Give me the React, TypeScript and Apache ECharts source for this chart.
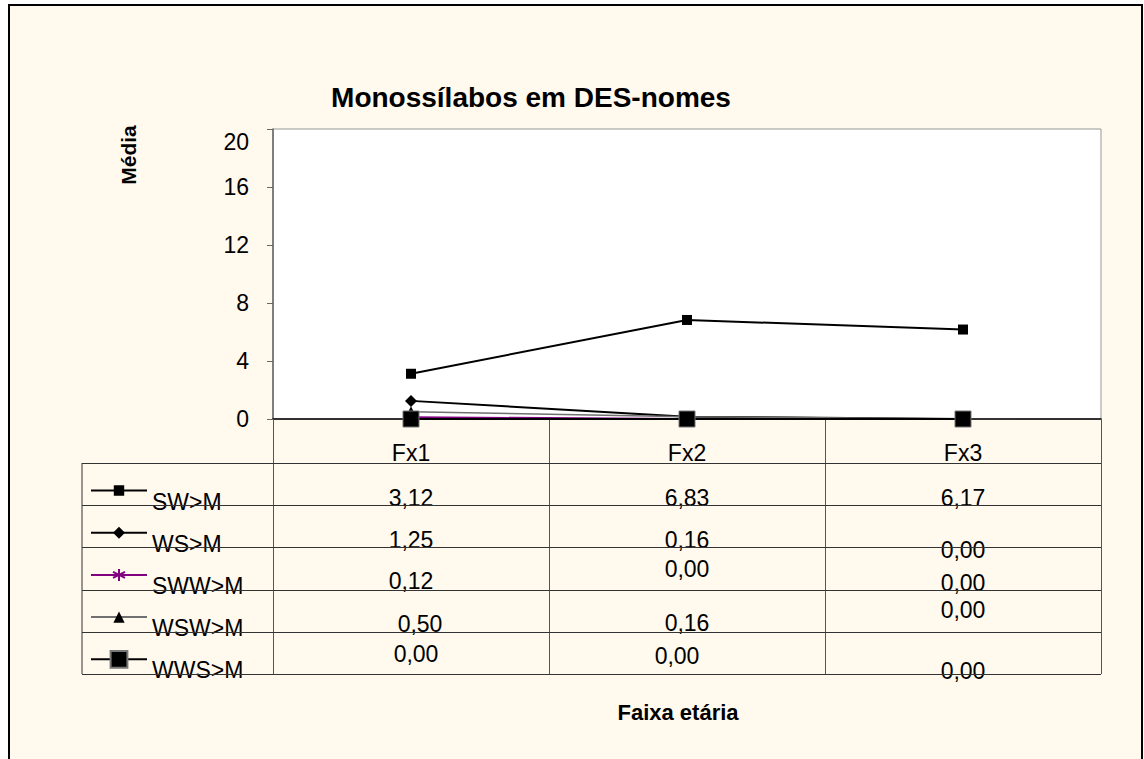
import React, { useEffect, useRef } from "react";
import * as echarts from "echarts";

// ---- data ----
const categories = ["Fx1", "Fx2", "Fx3"];
const seriesNames = ["SW>M", "WS>M", "SWW>M", "WSW>M", "WWS>M"];
const swM = [3.12, 6.83, 6.17];
const wsM = [1.25, 0.16, 0.0];
const swwM = [0.12, 0.0, 0.0];
const wswM = [0.5, 0.16, 0.0];
const wwsM = [0.0, 0.0, 0.0];
const yTicks = [0, 4, 8, 12, 16, 20];
const title = "Monossílabos em DES-nomes";
const yName = "Média";
const xName = "Faixa etária";

// ---- layout (not data) ----
const FONT = "'Liberation Sans', Arial, Helvetica, sans-serif";
const FS = 23;
const CREAM = "#FFF9EE";
const GRID = { left: 273, top: 129, width: 828, height: 290 };
const TABLE_LEFT = 82;
const TABLE_TOP = 463;
const ROW_H = 42.2;
// per-cell nudges of the value texts, [row][col] -> [dx, dy] relative to row center
const NUDGE: number[][][] = [
  [[0, 14], [0, 14], [0, 14]],
  [[0, 14], [0, 14], [0, 24]],
  [[0, 12], [0, 0], [0, 14]],
  [[9, 13], [0, 12], [0, -1]],
  [[5, 1], [-10, 3], [0, 18]],
];
const ICON_H = [13, 15, 15, 14, 21];

const asterisk =
  "path://M5 0 L5 10 M0.67 2.5 L9.33 7.5 M0.67 7.5 L9.33 2.5";

const fmt = (v: number) => v.toFixed(2).replace(".", ",");

export default function App() {
  const ref = useRef<HTMLDivElement>(null);
  useEffect(() => {
    if (!ref.current) return;
    const chart = echarts.init(ref.current, null, { renderer: "svg" });
    const values = [swM, wsM, swwM, wswM, wwsM];

    const series: any[] = [
      {
        name: seriesNames[0], type: "line", data: swM, symbol: "rect", symbolSize: 10,
        lineStyle: { color: "#000", width: 2 }, itemStyle: { color: "#000" }, z: 3,
      },
      {
        name: seriesNames[1], type: "line", data: wsM, symbol: "diamond", symbolSize: 12,
        lineStyle: { color: "#000", width: 2 }, itemStyle: { color: "#000" }, z: 3,
      },
      {
        name: seriesNames[2], type: "line", data: swwM, symbol: asterisk, symbolSize: 11,
        lineStyle: { color: "#800080", width: 2 },
        itemStyle: { color: "#800080", borderColor: "#800080", borderWidth: 1.5 }, z: 3,
      },
      {
        name: seriesNames[3], type: "line", data: wswM, symbol: "triangle", symbolSize: 11,
        lineStyle: { color: "#707070", width: 1.5 }, itemStyle: { color: "#000" }, z: 3,
      },
      {
        name: seriesNames[4], type: "line", data: wwsM, symbol: "rect", symbolSize: 16,
        lineStyle: { color: "#000", width: 2 },
        itemStyle: { color: "#000", borderColor: "#777", borderWidth: 1 }, z: 4,
      },
    ];

    const legends = seriesNames.map((n, i) => ({
      data: [n],
      left: 90,
      top: TABLE_TOP + ROW_H * i + 27 - 22,
      orient: "vertical",
      itemWidth: 56,
      itemHeight: ICON_H[i],
      padding: 0,
      selectedMode: false,
      formatter: (name: string) => "\n" + name,
      textStyle: { fontSize: FS, fontFamily: FONT, color: "#000", lineHeight: 22 },
    }));

    chart.setOption({
      animation: false,
      backgroundColor: "transparent",
      grid: {
        ...GRID, show: true, backgroundColor: "#fff", borderColor: "#999", borderWidth: 1,
        containLabel: false,
      },
      legend: legends,
      xAxis: {
        type: "category",
        data: categories,
        boundaryGap: true,
        axisLine: { lineStyle: { color: "#000", width: 1.5 } },
        axisTick: { show: true, interval: 0, length: 255, inside: false, lineStyle: { color: "#555", width: 1 } },
        axisLabel: { fontSize: FS, fontFamily: FONT, color: "#000", margin: 22, interval: 0 },
        splitLine: { show: false },
      },
      yAxis: {
        type: "value",
        min: yTicks[0],
        max: yTicks[yTicks.length - 1],
        interval: yTicks[1] - yTicks[0],
        axisLine: { show: true, lineStyle: { color: "#666", width: 1.5 } },
        axisTick: { show: true, length: 6, lineStyle: { color: "#666" } },
        axisLabel: {
          fontSize: FS, fontFamily: FONT, color: "#000", margin: 24, lineHeight: 26,
          formatter: (v: number) => (v === yTicks[yTicks.length - 1] ? "\n" + v : String(v)),
        },
        splitLine: { show: false },
      },
      series,
    });

    const xs = categories.map((c) => chart.convertToPixel({ xAxisIndex: 0 }, c) as number);
    const xRight = GRID.left + GRID.width;

    const els: any[] = [
      {
        type: "rect", z: -10, silent: true,
        shape: { x: 9, y: 5, width: 1133, height: 800 },
        style: { fill: CREAM, stroke: "#000", lineWidth: 2 },
      },
      {
        type: "text", x: 531, y: 97,
        style: { text: title, font: `bold 28px ${FONT}`, fill: "#000", align: "center", verticalAlign: "middle" },
      },
      {
        type: "text", x: 128, y: 155, rotation: Math.PI / 2,
        style: { text: yName, font: `bold 21px ${FONT}`, fill: "#000", align: "center", verticalAlign: "middle" },
      },
      {
        type: "text", x: 678, y: 712,
        style: { text: xName, font: `bold 22px ${FONT}`, fill: "#000", align: "center", verticalAlign: "middle" },
      },
      {
        type: "line",
        shape: { x1: TABLE_LEFT, y1: TABLE_TOP, x2: TABLE_LEFT, y2: TABLE_TOP + ROW_H * seriesNames.length },
        style: { stroke: "#333", lineWidth: 1 },
      },
    ];
    for (let r = 0; r <= seriesNames.length; r++) {
      const y = Math.round(TABLE_TOP + ROW_H * r) + 0.5;
      els.push({
        type: "line", z: 6,
        shape: { x1: TABLE_LEFT, y1: y, x2: xRight, y2: y },
        style: { stroke: "#333", lineWidth: 1 },
      });
    }
    values.forEach((arr, r) => {
      arr.forEach((v, c) => {
        const [dx, dy] = NUDGE[r][c];
        els.push({
          type: "text",
          x: xs[c] + dx,
          y: TABLE_TOP + ROW_H * (r + 0.5) + dy,
          z: 5,
          style: { text: fmt(v), font: `${FS}px ${FONT}`, fill: "#000", align: "center", verticalAlign: "middle" },
        });
      });
    });

    chart.setOption({ graphic: { elements: els } });

    return () => chart.dispose();
  }, []);

  return (
    <div
      ref={ref}
      style={{ position: "absolute", left: 0, top: 0, width: 1144, height: 759 }}
    />
  );
}
